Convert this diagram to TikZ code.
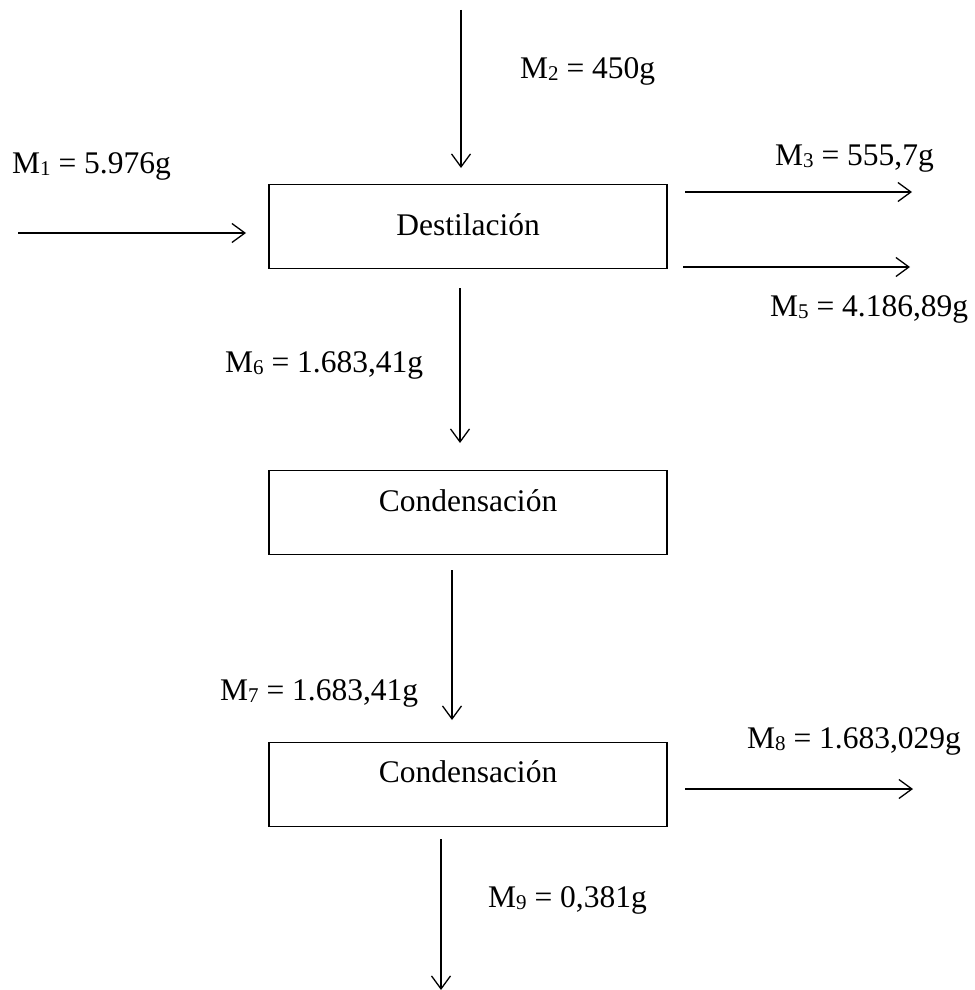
\documentclass[tikz,border=0pt]{standalone}
\usepackage{fontspec}
\setmainfont{Liberation Serif}
\usetikzlibrary{arrows.meta}
\newcommand{\sbs}[1]{\raisebox{-2pt}{\fontsize{21}{21}\selectfont #1}}
\begin{document}
\begin{tikzpicture}[x=1pt,y=-1pt,
  procbox/.style={draw, line width=1.5pt, minimum width=398pt, minimum height=84pt, inner sep=0pt},
  flow/.style={line width=1.3pt, -{Straight Barb[length=13pt,width=19pt,line width=1.3pt]}},
  lbl/.style={anchor=base west, inner sep=0pt, font=\fontsize{31.5}{36}\selectfont},
  boxtxt/.style={anchor=base, inner sep=0pt, font=\fontsize{31.5}{36}\selectfont}]
\useasboundingbox (0,0) rectangle (974,990);
% boxes
\node[procbox] (d) at (468,226.5) {};
\node[boxtxt] (dt) at (468,235) {Destilación};
\node[procbox] (c1) at (468,512.5) {};
\node[boxtxt] (c1t) at (468,511) {Condensación};
\node[procbox] (c2) at (468,784.5) {};
\node[boxtxt] (c2t) at (468,782) {Condensación};
% end points
\coordinate (a2s) at (461,10);   \coordinate (a2e) at (461,168);
\coordinate (a1s) at (18,233);   \coordinate (a1e) at (246,233);
\coordinate (a3s) at (685,192);  \coordinate (a3e) at (912,192);
\coordinate (a5s) at (683,267);  \coordinate (a5e) at (910,267);
\coordinate (a6s) at (460,288);  \coordinate (a6e) at (460,443);
\coordinate (a7s) at (452,570);  \coordinate (a7e) at (452,720);
\coordinate (a8s) at (685,789);  \coordinate (a8e) at (913,789);
\coordinate (a9s) at (441,839);  \coordinate (a9e) at (441,990);
% arrows
\draw[flow] (a2s) -- (a2e);
\draw[flow] (a1s) -- (a1e);
\draw[flow] (a3s) -- (a3e);
\draw[flow] (a5s) -- (a5e);
\draw[flow] (a6s) -- (a6e);
\draw[flow] (a7s) -- (a7e);
\draw[flow] (a8s) -- (a8e);
\draw[flow] (a9s) -- (a9e);
% labels
\node[lbl] (l1) at (12,173) {M\sbs{1} = 5.976g};
\node[lbl] (l2) at (520,78) {M\sbs{2} = 450g};
\node[lbl] (l3) at (775,165) {M\sbs{3} = 555,7g};
\node[lbl] (l5) at (770,316) {M\sbs{5} = 4.186,89g};
\node[lbl] (l6) at (225,372) {M\sbs{6} = 1.683,41g};
\node[lbl] (l7) at (220,700) {M\sbs{7} = 1.683,41g};
\node[lbl] (l8) at (747,748) {M\sbs{8} = 1.683,029g};
\node[lbl] (l9) at (488,907) {M\sbs{9} = 0,381g};
\end{tikzpicture}
\end{document}
